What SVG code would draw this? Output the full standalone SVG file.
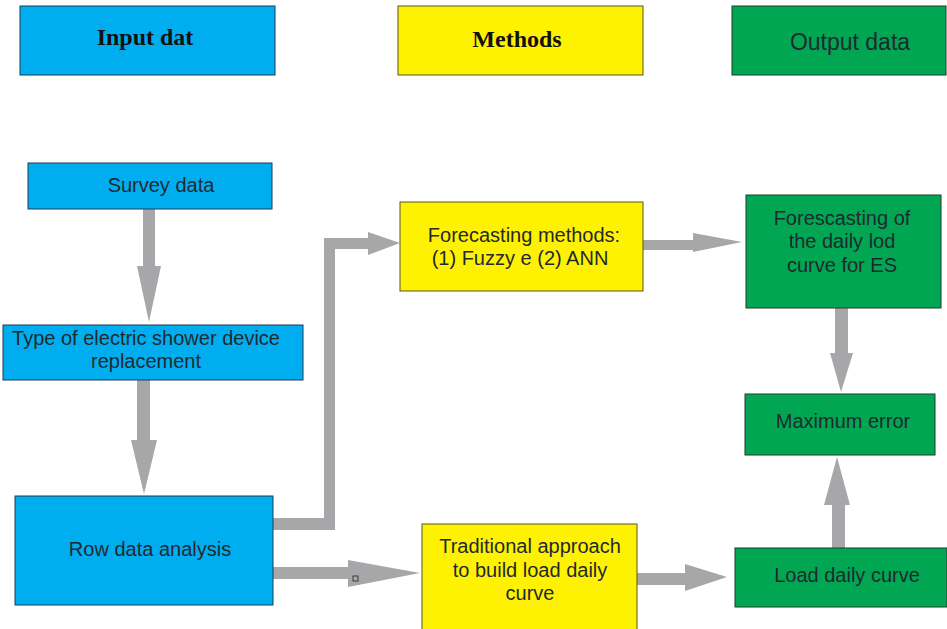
<svg xmlns="http://www.w3.org/2000/svg" width="947" height="629" viewBox="0 0 947 629">
<style>
.b{fill:#00AEEF;stroke:#1d3b57;stroke-width:1}
.y{fill:#FFF200;stroke:#5a5326;stroke-width:1}
.g{fill:#00A651;stroke:#1f3d2a;stroke-width:1}
.t{font-family:"Liberation Sans",Arial,sans-serif;font-size:20px;fill:#1f2a30;text-anchor:middle}
.h{font-family:"Liberation Serif","Times New Roman",serif;font-size:24px;font-weight:bold;fill:#111;text-anchor:middle}
.a{fill:#A7A7AA}
</style>
<rect width="947" height="629" fill="#fff"/>
<g id="hdr-input"><rect class="b" x="20" y="6" width="255" height="69"/><text class="h" x="145" y="45">Input dat</text></g>
<g id="hdr-methods"><rect class="y" x="398" y="6" width="245" height="69"/><text class="h" x="517" y="47">Methods</text></g>
<g id="hdr-output"><rect class="g" x="732" y="6" width="214" height="69"/><text class="t" x="850" y="50" style="font-size:23px">Output data</text></g>

<g id="connectors">
<path class="a" d="M143,209 H155 V266 H161 L149,322 L137,266 H143 Z"/>
<path class="a" d="M137,380 H150 V440 H157 L144,494 L131,440 H137 Z"/>
<path class="a" d="M273,518 H324 V238 H368 V232 L400,243 L368,255 V249 H335 V530 H273 Z"/>
<path class="a" d="M643,240 H693 V233 L742,242 L693,252 V250 H643 Z"/>
<path class="a" d="M273,567 H348 V560 L420,573 L348,587 V579 H273 Z"/>
<rect x="353" y="576" width="5" height="5" fill="none" stroke="#222" stroke-width="0.8"/>
<path class="a" d="M637,573 H685 V564 L727,577 L685,591 V585 H637 Z"/>
<path class="a" d="M835,308 H848 V353 H853 L841,392 L830,353 H835 Z"/>
<path class="a" d="M832,548 H845 V505 H850 L837,457 L824,505 H832 Z"/>
</g>

<g id="survey"><rect class="b" x="28" y="163" width="244" height="46"/><text class="t" x="161" y="192">Survey data</text></g>
<g id="type"><rect class="b" x="3" y="325" width="300" height="55"/><text class="t" x="146" y="345">Type of electric shower device</text><text class="t" x="146" y="368">replacement</text></g>
<g id="row"><rect class="b" x="15" y="496" width="258" height="109"/><text class="t" x="150" y="556">Row data analysis</text></g>
<g id="forecast"><rect class="y" x="400" y="202" width="243" height="89"/><text class="t" x="524" y="242">Forecasting methods:</text><text class="t" x="520" y="265">(1) Fuzzy e (2) ANN</text></g>
<g id="traditional"><rect class="y" x="422" y="524" width="215" height="110"/><text class="t" x="530" y="553">Traditional approach</text><text class="t" x="530" y="577">to build load daily</text><text class="t" x="530" y="600">curve</text></g>
<g id="forescasting"><rect class="g" x="746" y="195" width="195" height="113"/><text class="t" x="842" y="225">Forescasting of</text><text class="t" x="842" y="248">the daily lod</text><text class="t" x="842" y="272">curve for ES</text></g>
<g id="maxerr"><rect class="g" x="745" y="394" width="190" height="61"/><text class="t" x="843" y="428">Maximum error</text></g>
<g id="load"><rect class="g" x="735" y="548" width="212" height="59"/><text class="t" x="847" y="582">Load daily curve</text></g>
</svg>
